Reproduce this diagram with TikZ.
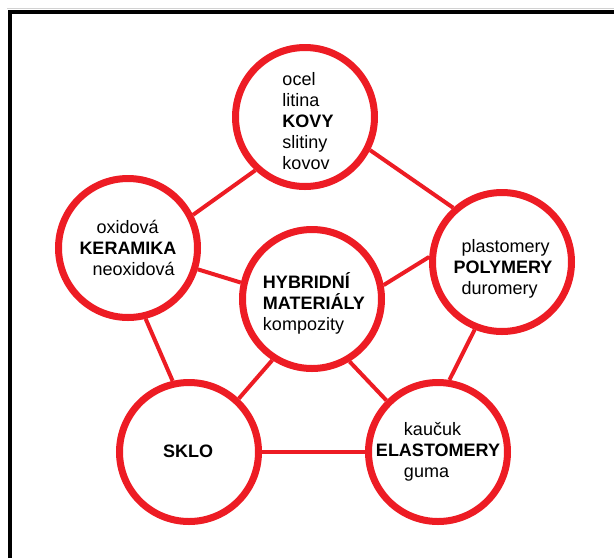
\documentclass[tikz,border=0pt]{standalone}
\usepackage{fontspec}
\setmainfont{Liberation Sans}
\definecolor{matred}{RGB}{237,28,36}

\begin{document}
\begin{tikzpicture}[x=1pt,y=-1pt,
    group/.style={circle,draw=matred,line width=7pt,fill=white,minimum size=139pt,inner sep=0pt},
    grouptext/.style={inner sep=0pt,align=left,font=\fontsize{18}{21}\selectfont},
    link/.style={draw=matred,line width=4pt}]
        \useasboundingbox (0,0) rectangle (614,558);
        % frame: top and left only
        \draw[gray!35,line width=1pt] (7,8) -- (614,8);
        \draw[line width=4pt] (10,558) -- (10,12) -- (614,12);
        % the five groups and the centre
        \node[group] (kovy) at (305,117) {};
        \node[group] (keramika) at (128,248) {};
        \node[group] (polymery) at (502,262) {};
        \node[group] (hybrid) at (312,299) {};
        \node[group] (sklo) at (189,452) {};
        \node[group] (elastomery) at (438,452) {};
        % texts, a little off the circle centres as in the original
        \node[grouptext] (kovytext) at ([shift={(3,4)}]kovy.center) {ocel\\litina\\\textbf{KOVY}\\slitiny\\kovov};
        \node[grouptext] (keramikatext) at (keramika.center) {\hspace*{17pt}oxidová\\\textbf{KERAMIKA}\\\hspace*{13pt}neoxidová};
        \node[grouptext] (polymerytext) at ([shift={(1,7)}]polymery.center) {\hspace*{8pt}plastomery\\\textbf{POLYMERY}\\\hspace*{8pt}duromery};
        \node[grouptext] (hybridtext) at ([shift={(2,4)}]hybrid.center) {\textbf{HYBRIDNÍ}\\\textbf{MATERIÁLY}\\kompozity};
        \node[grouptext] (sklotext) at ([shift={(-1,-1)}]sklo.center) {\textbf{SKLO}};
        \node[grouptext] (elastomerytext) at (elastomery.center) {\hspace*{28pt}kaučuk\\\textbf{ELASTOMERY}\\\hspace*{28pt}guma};
        % outer ring
        \draw[link] (kovy.227) -- (keramika.27);
        \draw[link] (kovy.333) -- (polymery.132);
        \draw[link] (keramika.284) -- (sklo.103);
        \draw[link] (polymery.248) -- (elastomery.81);
        \draw[link] (sklo.east) -- (elastomery.west);
        % spokes from the centre
        \draw[link] (hybrid.167) -- (keramika.343);
        \draw[link] (hybrid.11) -- (polymery.176);
        \draw[link] (hybrid.237) -- (sklo.47);
        \draw[link] (hybrid.301) -- (elastomery.135);
      \end{tikzpicture}
\end{document}
